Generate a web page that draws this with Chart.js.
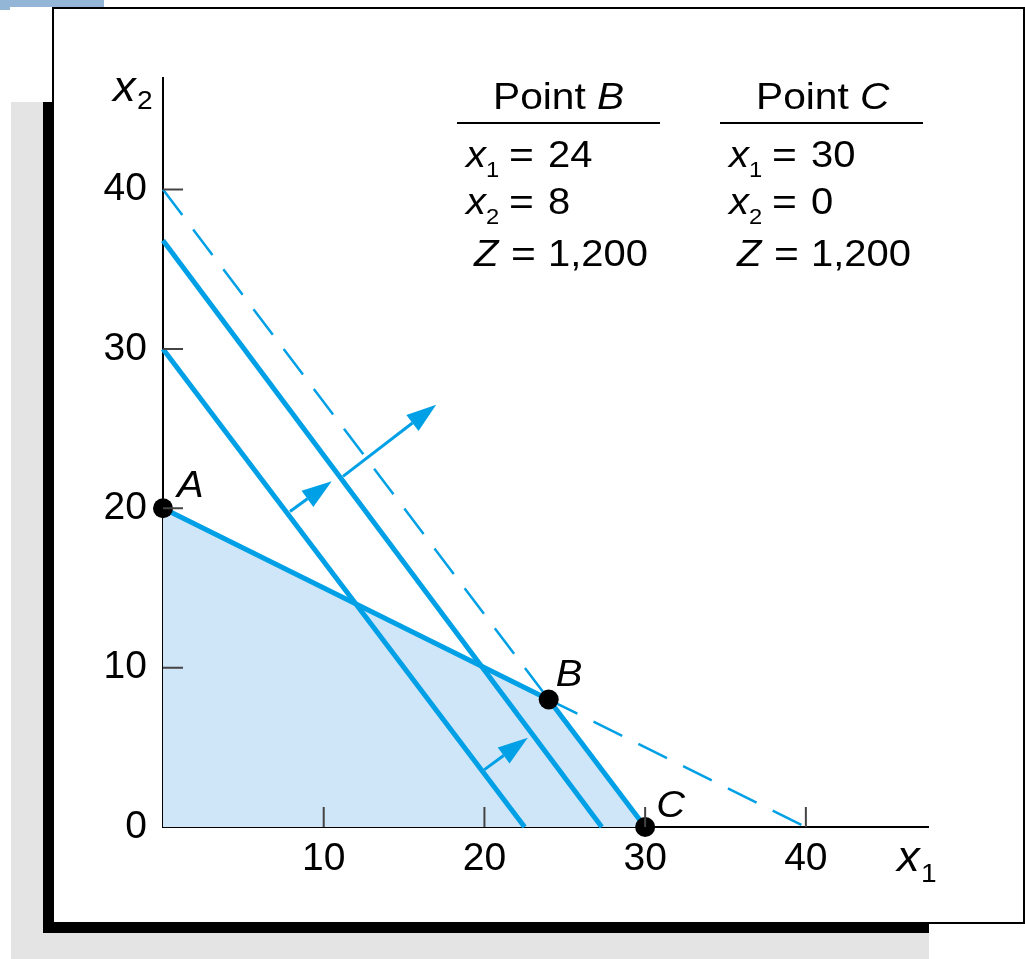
<!DOCTYPE html>
<html>
<head>
<meta charset="utf-8">
<script src="https://cdn.jsdelivr.net/npm/chart.js@4.4.1/dist/chart.umd.min.js"></script>
<style>
  body { margin: 0; width: 1025px; height: 959px; overflow: hidden; position: relative; background: #fff; }
  .blk { position: absolute; }
  #lp { position: absolute; left: 0; top: 0; }
</style>
</head>
<body>
<div class="blk" style="left:0;top:0;width:104px;height:7px;background:#93b5d6"></div>
<div class="blk" style="left:0;top:7px;width:10px;height:3px;background:#93b5d6"></div>
<div class="blk" style="left:11px;top:102px;width:918px;height:857px;background:#e4e4e4"></div>
<div class="blk" style="left:43px;top:102px;width:886px;height:831px;background:#000"></div>
<div class="blk" style="left:52px;top:7px;width:969px;height:913px;border:2px solid #000;background:#fff"></div>
<canvas id="lp" width="1025" height="959"></canvas>
<script>
const tickValues = [0, 10, 20, 30, 40];

// corner points of the feasible area
const cornerNames = ['A', 'B', 'C'];
const cornerX = [0, 24, 30];
const cornerY = [20, 8, 0];

// feasible region outline (filled down to x2 = 0)
const regionX = [0, 24, 30];
const regionY = [20, 8, 0];

// constraint x1 + 2x2 = 40
const con1X = [0, 24, 40];
const con1Y = [20, 8, 0];
// constraint 4x1 + 3x2 = 120 (same line as Z = 1,200)
const con2X = [0, 24, 30];
const con2Y = [40, 8, 0];

// lower objective lines
const zLowX = [0, 22.5];
const zLowY = [30, 0];
const zMidX = [0, 27.3];
const zMidY = [36.8, 0];

// arrows, start and tip
const arrowX0 = [7.9, 11.2, 20.0];
const arrowY0 = [19.8, 22.0, 3.6];
const arrowX1 = [10.5, 17.0, 22.7];
const arrowY1 = [21.7, 26.5, 5.6];

// solution tables
const tablePoint = ['B', 'C'];
const tableX1 = ['24', '30'];
const tableX2 = ['8', '0'];
const tableZ = ['1,200', '1,200'];

const blue = '#00a0e6';
const FONT = '"Liberation Sans", Arial, Helvetica, sans-serif';

function pts(xs, ys, from, to) {
  const out = [];
  for (let i = from; i < to; i++) out.push({ x: xs[i], y: ys[i] });
  return out;
}

function segment(xs, ys, from, to, width, dash) {
  return {
    data: pts(xs, ys, from, to),
    order: 2,
    showLine: true,
    borderColor: blue,
    borderWidth: width,
    borderDash: dash || [],
    pointRadius: 0,
    fill: false,
    clip: false
  };
}

// text slightly stretched sideways like the printed figure
function txt(ctx, s, x, y, size, italic, sx) {
  sx = sx || 1.08;
  ctx.font = (italic ? 'italic ' : '') + size + 'px ' + FONT;
  ctx.save();
  ctx.translate(x, y);
  ctx.scale(sx, 1);
  ctx.fillText(s, 0, 0);
  ctx.restore();
  return x + ctx.measureText(s).width * sx;
}

const extras = {
  id: 'extras',
  afterDraw(chart) {
    const { ctx, scales: { x, y } } = chart;
    ctx.save();

    // inward tick marks
    ctx.strokeStyle = '#444';
    ctx.lineWidth = 2;
    tickValues.slice(1).forEach(v => {
      const py = y.getPixelForValue(v), px = x.getPixelForValue(v);
      const x0 = x.getPixelForValue(0), y0 = y.getPixelForValue(0);
      ctx.beginPath();
      ctx.moveTo(x0, py); ctx.lineTo(x0 + 20, py);
      ctx.moveTo(px, y0); ctx.lineTo(px, y0 - 20);
      ctx.stroke();
    });

    // arrows
    ctx.strokeStyle = blue;
    ctx.fillStyle = blue;
    ctx.lineWidth = 3;
    for (let i = 0; i < arrowX0.length; i++) {
      const sx = x.getPixelForValue(arrowX0[i]), sy = y.getPixelForValue(arrowY0[i]);
      const tx = x.getPixelForValue(arrowX1[i]), ty = y.getPixelForValue(arrowY1[i]);
      const a = Math.atan2(ty - sy, tx - sx);
      const hl = 30, hw = 10;
      const bx = tx - hl * Math.cos(a), by = ty - hl * Math.sin(a);
      ctx.beginPath();
      ctx.moveTo(sx, sy); ctx.lineTo(bx, by);
      ctx.stroke();
      ctx.beginPath();
      ctx.moveTo(tx, ty);
      ctx.lineTo(bx + hw * Math.sin(a), by - hw * Math.cos(a));
      ctx.lineTo(bx - hw * Math.sin(a), by + hw * Math.cos(a));
      ctx.closePath();
      ctx.fill();
    }

    ctx.fillStyle = '#000';
    ctx.textBaseline = 'alphabetic';
    ctx.textAlign = 'left';

    // corner labels
    const offs = [[14, -11], [7, -14], [11, -10]];
    cornerNames.forEach((n, i) => {
      const px = x.getPixelForValue(cornerX[i]), py = y.getPixelForValue(cornerY[i]);
      txt(ctx, n, px + offs[i][0], py + offs[i][1], 37, true);
    });

    // axis titles
    txt(ctx, 'x', 113, 101, 42, true);
    txt(ctx, '2', 137, 109, 26, false);
    txt(ctx, 'x', 897, 871, 42, true);
    txt(ctx, '1', 921, 882, 26, false);

    // tables
    tablePoint.forEach((p, i) => {
      const ox = i * 263;
      let cx = txt(ctx, 'Point ', 493 + ox, 109, 37, false, 1.1);
      txt(ctx, p, cx, 109, 37, true, 1.1);
      ctx.fillRect(457 + ox, 122, 203, 2);

      txt(ctx, 'x', 466 + ox, 167, 37, true);
      txt(ctx, '1', 486 + ox, 177, 22, false);
      txt(ctx, '=', 509 + ox, 167, 37, false, 1.15);
      txt(ctx, tableX1[i], 548 + ox, 167, 37, false);

      txt(ctx, 'x', 466 + ox, 214, 37, true);
      txt(ctx, '2', 486 + ox, 224, 22, false);
      txt(ctx, '=', 509 + ox, 214, 37, false, 1.15);
      txt(ctx, tableX2[i], 548 + ox, 214, 37, false);

      txt(ctx, 'Z', 474 + ox, 266, 37, true);
      txt(ctx, '=', 511 + ox, 266, 37, false, 1.15);
      txt(ctx, tableZ[i], 548 + ox, 266, 37, false);
    });

    ctx.restore();
  }
};

Chart.defaults.font.family = FONT;
Chart.defaults.color = '#000';

new Chart(document.getElementById('lp'), {
  type: 'scatter',
  data: {
    datasets: [
      {
        data: pts(regionX, regionY, 0, regionX.length),
        order: 3,
        showLine: true,
        borderWidth: 0,
        borderColor: 'rgba(0,0,0,0)',
        backgroundColor: '#cfe5f8',
        fill: 'origin',
        pointRadius: 0,
        clip: false
      },
      segment(con1X, con1Y, 0, 2, 5),
      segment(con1X, con1Y, 1, 3, 2.5, [32, 18]),
      segment(con2X, con2Y, 0, 2, 2.5, [32, 18]),
      segment(con2X, con2Y, 1, 3, 5),
      segment(zLowX, zLowY, 0, 2, 5),
      segment(zMidX, zMidY, 0, 2, 5),
      {
        data: pts(cornerX, cornerY, 0, cornerX.length),
        order: 1,
        showLine: false,
        pointRadius: 10,
        pointBackgroundColor: '#000',
        pointBorderWidth: 0,
        clip: false
      }
    ]
  },
  options: {
    responsive: false,
    animation: false,
    events: [],
    layout: { padding: { left: 103, right: 97, top: 78, bottom: 72 } },
    plugins: { legend: { display: false }, tooltip: { enabled: false } },
    scales: {
      x: {
        type: 'linear',
        min: 0,
        max: 47.6,
        z: 1,
        grid: { display: false, drawTicks: false },
        border: { display: true, color: '#000', width: 2 },
        ticks: {
          stepSize: 10,
          includeBounds: false,
          padding: 9,
          font: { size: 39 },
          callback: v => (v > 0 && v % 10 === 0) ? v : null
        },
        afterFit: s => { s.height = 60; }
      },
      y: {
        type: 'linear',
        min: 0,
        max: 47,
        z: 1,
        grid: { display: false, drawTicks: false },
        border: { display: true, color: '#000', width: 2 },
        ticks: {
          stepSize: 10,
          includeBounds: false,
          padding: 16,
          font: { size: 39 },
          callback: v => (v % 10 === 0) ? v : null
        },
        afterFit: s => { s.width = 60; }
      }
    }
  },
  plugins: [extras]
});
</script>
</body>
</html>
